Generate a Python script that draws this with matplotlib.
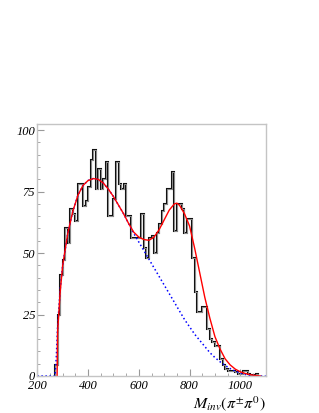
import numpy as np
import matplotlib
matplotlib.use("Agg")
import matplotlib.pyplot as plt
from matplotlib.ticker import MultipleLocator

plt.rcParams['mathtext.fontset'] = 'stix'

# histogram: 10 MeV bins starting at 270
bin_edges = np.arange(270, 1080, 10)
counts = [4.5, 25, 41, 47, 60, 54, 68, 66, 63, 78,
          78, 69, 71, 77, 88, 92, 76, 84, 76, 80,
          87, 65, 65, 72, 87, 78, 76, 78, 65, 65,
          56, 56, 56, 56, 66, 52, 48, 56, 57, 50,
          58, 62, 67, 70, 76, 76, 83, 59, 70, 70,
          68, 58, 64, 64, 48, 34, 26, 26, 28, 28,
          19, 15, 14, 12, 12, 7, 4.5, 3, 2, 2,
          1.9, 1.5, 1, 1, 2.2, 2.2, 1, 0.5, 0.5, 1]

# background (blue dotted)
bg_m = [200, 270, 275, 280, 290, 300, 320, 340, 360, 380, 400, 420, 440, 460,
        480, 500, 520, 540, 560, 580, 600, 620, 640, 660, 680, 700, 720, 740,
        760, 780, 800, 820, 840, 860, 880, 900, 920, 940, 960, 980, 1000,
        1020, 1040, 1060, 1080, 1100]
bg_v = [0, 0, 8, 20, 35, 45, 58, 67, 73.5, 77.5, 79.5, 80.3, 80, 78.5,
        76, 73, 69.5, 66, 62, 58, 54.5, 51, 47.5, 44, 40.5, 37, 33.5, 30,
        26.5, 23, 20, 17, 14.5, 12, 9.5, 7.5, 5.8, 4.3, 3, 2, 1.2,
        0.6, 0.25, 0.1, 0, 0]

# total fit (red)
fit_m = [278, 280, 290, 300, 320, 340, 360, 380, 400, 420, 440, 460, 480,
         500, 520, 540, 560, 580, 600, 620, 640, 660, 680, 700, 720, 740,
         750, 760, 780, 800, 820, 840, 860, 880, 900, 920, 940, 960, 980,
         1000, 1020, 1040, 1060, 1080]
fit_v = [0, 18, 34, 45, 58, 67, 73.5, 77.5, 79.5, 80.3, 80, 78.5, 76,
         73, 69.5, 66, 62, 58.5, 56.5, 55.5, 55.2, 56.5, 59.5, 63.5, 67.5, 70,
         70.3, 69.5, 66, 61, 52, 42, 32, 23.5, 16, 11, 7, 4.5, 2.8,
         1.7, 1, 0.5, 0.2, 0]

fig = plt.figure(figsize=(3.19, 4.13), dpi=100)
ax = fig.add_axes([37.3/319, 37/413, 228.4/319, 251.5/413])

ax.stairs(counts, bin_edges, color='#111111', lw=1.5, baseline=0)
ax.stairs(counts, bin_edges, color='#c0c0c0', lw=0.5, baseline=0)
ax.plot(bg_m, bg_v, color='blue', ls=':', lw=1.1)
ax.plot(fit_m, fit_v, color='red', lw=1.0)

ax.set_xlim(200, 1100)
ax.set_ylim(0, 102.3)
ax.xaxis.set_major_locator(MultipleLocator(200))
ax.xaxis.set_minor_locator(MultipleLocator(50))
ax.yaxis.set_major_locator(MultipleLocator(25))
ax.yaxis.set_minor_locator(MultipleLocator(5))
for s in ax.spines.values():
    s.set_color('#c4c4c4')
    s.set_linewidth(1.0)
ax.tick_params(which='both', direction='in', color='#999999', top=False, right=False)
ax.tick_params(which='major', length=5, width=0.8, pad=1.5)
ax.tick_params(which='minor', length=2.5, width=0.6)
ax.tick_params(axis='x', which='major', pad=3)
for lab in ax.get_xticklabels() + ax.get_yticklabels():
    lab.set_fontfamily('Liberation Serif')
    lab.set_fontstyle('italic')
    lab.set_fontsize(9)

fig.text(266/319, 1 - 408/413, r'$M_{inv}(\pi^{\pm}\pi^{0})$', ha='right',
         va='baseline', fontsize=11.5)

fig.savefig('out.png', dpi=100)
